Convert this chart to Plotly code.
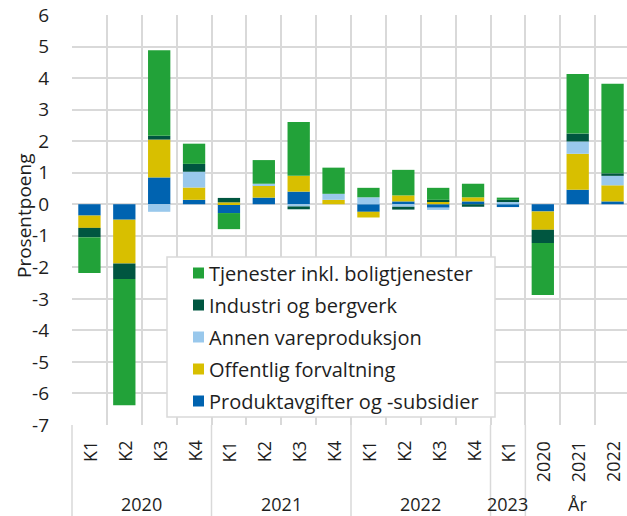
import plotly.graph_objects as go

# Categories: quarters grouped by year, then annual figures
quarters = ["K1", "K2", "K3", "K4", "K1", "K2", "K3", "K4",
            "K1", "K2", "K3", "K4", "K1", "2020", "2021", "2022"]
groups = [("2020", 0, 3), ("2021", 4, 7), ("2022", 8, 11), ("2023", 12, 12), ("År", 13, 15)]

# Contributions in percentage points
produktavgifter = [-0.36, -0.49, 0.85, 0.14, -0.28, 0.21, 0.40, 0.00,
                   -0.24, 0.09, -0.11, 0.09, -0.09, -0.23, 0.46, 0.09]
offentlig = [-0.39, -1.39, 1.20, 0.39, 0.06, 0.38, 0.50, 0.14,
             -0.18, 0.19, 0.09, 0.13, 0.00, -0.58, 1.14, 0.51]
annen_vare = [0.00, 0.00, -0.24, 0.50, 0.00, 0.06, -0.07, 0.19,
              0.22, -0.08, -0.07, 0.00, 0.08, 0.00, 0.39, 0.30]
industri = [-0.30, -0.49, 0.12, 0.25, 0.14, 0.00, -0.09, 0.00,
            0.00, -0.09, 0.05, -0.08, 0.06, -0.42, 0.25, 0.08]
tjenester = [-1.13, -4.00, 2.71, 0.64, -0.51, 0.75, 1.71, 0.83,
             0.30, 0.81, 0.38, 0.43, 0.07, -1.65, 1.89, 2.84]

y_ticks = list(range(-7, 7))

series = [
    ("Produktavgifter og -subsidier", produktavgifter, "#0063b0"),
    ("Offentlig forvaltning", offentlig, "#d8bf00"),
    ("Annen vareproduksjon", annen_vare, "#99c8ec"),
    ("Industri og bergverk", industri, "#005640"),
    ("Tjenester inkl. boligtjenester", tjenester, "#22a239"),
]

FONT = "Open Sans"
TXT = "#1e1e1e"
GRID = "#d9d9d9"

W, H = 627, 516
ML, MT, MB = 72, 15, 91
x_range = [-0.5, 15.414]
plot_w = W - ML
plot_h = H - MT - MB

x = list(range(len(quarters)))
fig = go.Figure()
for name, vals, color in series:
    fig.add_trace(go.Bar(x=x, y=vals, name=name, marker_color=color,
                         marker_line_width=0, width=0.64, showlegend=False))


def px_x(v):
    return (v - x_range[0]) / (x_range[1] - x_range[0])


def py(pix):
    # pixel row -> paper y
    return (H - MB - pix) / plot_h


annotations = []
shapes = []

# Category tick labels (rotated)
for i, lab in enumerate(quarters):
    annotations.append(dict(x=i, xref="x", y=py(439), yref="paper", text=lab,
                            textangle=-90, showarrow=False, xanchor="center",
                            yanchor="top", font=dict(family=FONT, size=18, color=TXT)))

# Group labels and separators
for lab, a, b in groups:
    annotations.append(dict(x=(a + b) / 2, xref="x", y=py(504), yref="paper", text=lab,
                            showarrow=False, xanchor="center", yanchor="middle",
                            font=dict(family=FONT, size=18, color=TXT)))
    xb = px_x(a - 0.5)
    shapes.append(dict(type="line", xref="paper", yref="paper", x0=xb, x1=xb,
                       y0=0, y1=py(H + 5), line=dict(color=GRID, width=1.5)))

# Y-axis title
annotations.append(dict(x=(24 - ML) / plot_w, xref="paper", y=py(216), yref="paper",
                        text="Prosentpoeng", textangle=-90, showarrow=False,
                        xanchor="center", yanchor="middle",
                        font=dict(family=FONT, size=19, color=TXT)))

# Legend box
lx0, lx1, ly0, ly1 = 167, 495, 257, 417
shapes.append(dict(type="rect", xref="paper", yref="paper",
                   x0=(lx0 - ML) / plot_w, x1=(lx1 - ML) / plot_w,
                   y0=py(ly1), y1=py(ly0), fillcolor="white",
                   line=dict(color=GRID, width=1.5), layer="above"))
rows = [273, 305, 337, 369, 401]
for (name, _, color), ry in zip(reversed(series), rows):
    shapes.append(dict(type="rect", xref="paper", yref="paper",
                       x0=(193 - ML) / plot_w, x1=(204 - ML) / plot_w,
                       y0=py(ry + 5.5), y1=py(ry - 5.5), fillcolor=color,
                       line=dict(width=0), layer="above"))
    annotations.append(dict(x=(207 - ML) / plot_w, xref="paper", y=py(ry), yref="paper",
                            text=name, showarrow=False, xanchor="left", yanchor="middle",
                            font=dict(family=FONT, size=20, color=TXT)))

fig.update_layout(
    width=W, height=H,
    margin=dict(l=ML, r=0, t=MT, b=MB, pad=0),
    barmode="relative",
    plot_bgcolor="white", paper_bgcolor="white",
    font=dict(family=FONT, size=19, color=TXT),
    showlegend=False,
    annotations=annotations,
    shapes=shapes,
)
fig.update_xaxes(range=x_range, tickvals=[i - 0.5 for i in range(16)], showticklabels=False,
                 showgrid=True, gridcolor=GRID, gridwidth=1.5, zeroline=False,
                 showline=False, ticks="")
fig.update_yaxes(range=[-7, 6], tickvals=y_ticks, ticktext=[str(v) for v in y_ticks],
                 showgrid=True, gridcolor=GRID, gridwidth=1.8, zeroline=True,
                 zerolinecolor=GRID, zerolinewidth=1.8, showline=False, ticks="",
                 ticklabelstandoff=22, tickfont=dict(family=FONT, size=19, color=TXT))

fig.write_html("out.html")
